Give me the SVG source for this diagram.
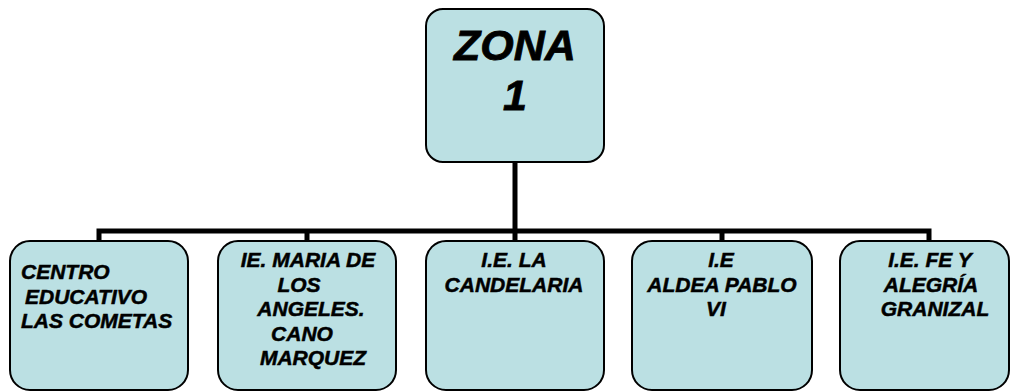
<svg xmlns="http://www.w3.org/2000/svg" width="1010" height="392" viewBox="0 0 1010 392">
<style>
.box{fill:#bbe0e3;stroke:#000;stroke-width:2}
.conn{stroke:#000;stroke-width:5;fill:none}
.t{font-family:"Liberation Sans",Arial,sans-serif;font-weight:bold;font-style:italic;font-size:21px;fill:#000;stroke:#000;stroke-width:0.5}
.big{font-size:43px;stroke-width:0.8}
</style>
<rect width="1010" height="392" fill="#fff"/>
<g id="connectors">
<path class="conn" d="M515 162V231"/>
<path class="conn" d="M99 241V231H929V241"/>
<path class="conn" d="M307 231V241M515 231V241M722 231V241"/>
</g>
<g id="zona1">
<rect class="box" x="426" y="9" width="178" height="153" rx="17"/>
<text class="t big" x="515" y="60" text-anchor="middle">ZONA</text>
<text class="t big" x="515" y="110" text-anchor="middle">1</text>
</g>
<g id="n1">
<rect class="box" x="10" y="241" width="178" height="149" rx="20"/>
<text class="t" x="21" y="279">CENTRO</text>
<text class="t" x="25" y="303.5">EDUCATIVO</text>
<text class="t" x="21" y="328">LAS COMETAS</text>
</g>
<g id="n2">
<rect class="box" x="218" y="241" width="178" height="149" rx="20"/>
<text class="t" x="308" y="267" text-anchor="middle">IE. MARIA DE</text>
<text class="t" x="299" y="291.5" text-anchor="middle">LOS</text>
<text class="t" x="311" y="316" text-anchor="middle">ANGELES.</text>
<text class="t" x="302" y="340.5" text-anchor="middle">CANO</text>
<text class="t" x="313" y="365" text-anchor="middle">MARQUEZ</text>
</g>
<g id="n3">
<rect class="box" x="426" y="241" width="178" height="149" rx="20"/>
<text class="t" x="514" y="267" text-anchor="middle">I.E. LA</text>
<text class="t" x="514" y="291.5" text-anchor="middle">CANDELARIA</text>
</g>
<g id="n4">
<rect class="box" x="632" y="241" width="180" height="149" rx="20"/>
<text class="t" x="721" y="267" text-anchor="middle">I.E</text>
<text class="t" x="722" y="291.5" text-anchor="middle">ALDEA PABLO</text>
<text class="t" x="716" y="316" text-anchor="middle">VI</text>
</g>
<g id="n5">
<rect class="box" x="840" y="241" width="169" height="149" rx="20"/>
<text class="t" x="930" y="267" text-anchor="middle">I.E. FE Y</text>
<text class="t" x="931" y="291.5" text-anchor="middle">ALEGRÍA</text>
<text class="t" x="935" y="316" text-anchor="middle">GRANIZAL</text>
</g>
</svg>
